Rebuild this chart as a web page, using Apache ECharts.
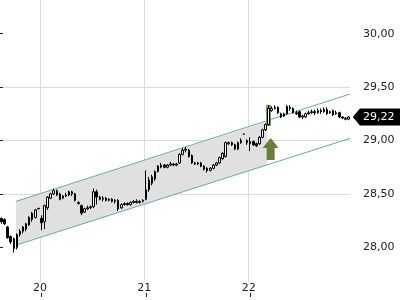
<!DOCTYPE html>
<html><head><meta charset="utf-8">
<script src="https://cdn.jsdelivr.net/npm/echarts@6/dist/echarts.min.js"></script>
<style>html,body{margin:0;padding:0;background:#fff}#c{width:400px;height:300px}</style>
</head><body><div id="c"></div>
<script>
// ---- data ----
const days = ['19', '20', '21', '22'];
const slotsPerDay = 34;      // 15-minute candles per trading day
const firstSlot = 21;        // first visible candle of day 19
const opens = [28.27,28.26,28.19,28.10,28.08,28.00,28.12,28.15,28.17,28.21,28.26,28.28,28.36,28.27,28.24,28.37,28.46,28.50,28.53,28.50,
28.46,28.48,28.49,28.52,28.50,28.42,28.39,28.33,28.36,28.37,28.38,28.52,28.47,28.45,28.46,28.44,28.45,28.43,28.44,28.37,
28.40,28.41,28.40,28.42,28.43,28.42,28.43,28.45,28.54,28.60,28.64,28.71,28.75,28.77,28.75,28.77,28.78,28.77,28.79,28.87,
28.91,28.91,28.86,28.79,28.78,28.79,28.76,28.74,28.72,28.74,28.77,28.79,28.83,28.85,28.97,28.98,28.96,28.92,28.98,29.06,
29.00,28.99,28.99,28.97,28.97,29.03,29.10,29.15,29.28,29.30,29.31,29.25,29.23,29.25,29.31,29.30,29.26,29.27,29.22,29.22,
29.25,29.26,29.27,29.26,29.28,29.27,29.29,29.26,29.28,29.25,29.26,29.22,29.21,29.20];
const closes = [28.24,28.22,28.09,28.05,27.99,28.12,28.15,28.19,28.22,28.28,28.32,28.35,28.365,28.23,28.39,28.47,28.50,28.53,28.49,28.45,
28.48,28.49,28.52,28.50,28.44,28.41,28.32,28.36,28.37,28.38,28.52,28.47,28.45,28.46,28.44,28.45,28.43,28.44,28.36,28.40,
28.41,28.40,28.42,28.43,28.42,28.43,28.44,28.54,28.63,28.66,28.71,28.76,28.77,28.75,28.77,28.78,28.77,28.78,28.87,28.91,
28.92,28.85,28.79,28.78,28.79,28.76,28.73,28.72,28.74,28.77,28.79,28.84,28.88,28.98,28.98,28.96,28.92,28.98,29.00,29.06,
28.98,28.97,28.96,28.95,29.03,29.10,29.15,29.30,29.30,29.31,29.26,29.22,29.25,29.32,29.30,29.26,29.25,29.22,29.23,29.25,
29.26,29.27,29.26,29.28,29.27,29.29,29.25,29.27,29.24,29.26,29.22,29.21,29.20,29.22];
const lows = [28.22,28.21,28.08,28.03,27.95,27.98,28.10,28.13,28.15,28.20,28.24,28.27,28.355,28.16,28.17,28.35,28.45,28.49,28.48,28.44,
28.45,28.47,28.48,28.48,28.43,28.40,28.30,28.32,28.35,28.36,28.37,28.40,28.44,28.43,28.43,28.43,28.42,28.41,28.34,28.36,
28.39,28.39,28.39,28.41,28.41,28.41,28.42,28.44,28.52,28.58,28.62,28.70,28.74,28.74,28.74,28.76,28.76,28.76,28.78,28.86,
28.89,28.84,28.78,28.77,28.77,28.75,28.72,28.70,28.71,28.73,28.76,28.78,28.82,28.84,28.96,28.95,28.91,28.91,28.97,29.055,
28.96,28.90,28.95,28.94,28.96,29.02,29.09,29.14,29.27,29.29,29.25,29.21,29.22,29.24,29.28,29.25,29.24,29.21,29.20,29.21,
29.24,29.25,29.24,29.25,29.25,29.26,29.24,29.25,29.23,29.24,29.21,29.20,29.19,29.19];
const highs = [28.28,28.27,28.20,28.11,28.09,28.13,28.17,28.20,28.23,28.29,28.33,28.36,28.37,28.30,28.40,28.48,28.51,28.55,28.54,28.51,
28.49,28.51,28.53,28.53,28.51,28.43,28.40,28.37,28.39,28.39,28.55,28.54,28.48,28.48,28.47,28.46,28.46,28.45,28.45,28.41,
28.42,28.42,28.43,28.44,28.45,28.44,28.45,28.72,28.66,28.68,28.72,28.77,28.79,28.78,28.78,28.80,28.79,28.79,28.88,28.93,
28.94,28.92,28.87,28.80,28.80,28.80,28.77,28.75,28.75,28.78,28.80,28.85,28.89,28.99,28.99,28.99,28.97,28.99,29.02,29.065,
29.01,29.03,29.00,28.98,29.04,29.11,29.16,29.33,29.32,29.33,29.32,29.26,29.26,29.33,29.33,29.31,29.28,29.28,29.24,29.26,
29.28,29.29,29.29,29.30,29.30,29.31,29.31,29.28,29.29,29.28,29.27,29.23,29.22,29.23];
const yTicks = [28, 28.5, 29, 29.5, 30];
const yMin = 27.675, yMax = 30.316;
// trend channel (x in candle slots)
const channelX = [5.2, 114];
const channelUpper = [28.43, 29.435];
const channelLower = [28.02, 29.02];
const fillX = [5.2, 87];
const fillUpper = [28.43, 29.176];
const fillLower = [28.02, 28.772];
const signalIndex = 87;
const arrowPrice = 28.92;

// ---- build ----
const pad = n => (n < 10 ? '0' : '') + n;
const categories = [];
{
  let d = 0, s = firstSlot;
  for (let i = 0; i < opens.length; i++) {
    const m = 9 * 60 + 15 * s;
    categories.push(days[d] + ' ' + pad(Math.floor(m / 60)) + ':' + pad(m % 60));
    s++; if (s === slotsPerDay) { s = 0; d++; }
  }
}
const isDayStart = (idx, val) => /09:00$/.test(val);
const fmt = v => Number(v).toFixed(2).replace('.', ',');
const candleData = opens.map((o, i) => [o, closes[i], lows[i], highs[i]]);
const highlightData = categories.map((c, i) => i === signalIndex ? [lows[i], highs[i], lows[i], highs[i]] : '-');
const last = closes.length - 1;
const font = 'DejaVu Sans';
const teal = '#62a9ae';
const olive = '#6b7d3b';

const chart = echarts.init(document.getElementById('c'), null, { renderer: 'canvas' });
chart.setOption({
  animation: false,
  grid: [
    { left: 0, right: 50, top: 0, bottom: 18 },
    { left: 0, right: 50, top: 0, bottom: 3 }
  ],
  xAxis: [
    { type: 'category', gridIndex: 0, data: categories, position: 'bottom',
      axisLine: { show: false }, axisTick: { show: false },
      axisLabel: { interval: isDayStart, formatter: v => v.split(' ')[0], margin: 1,
        color: '#222', fontSize: 11, fontFamily: font, padding: [0, 3, 0, 0] },
      splitLine: { show: true, interval: isDayStart, showMinLine: true, showMaxLine: false,
        lineStyle: { color: '#dcdcdc', width: 1 } } },
    { type: 'value', gridIndex: 0, min: 0, max: categories.length, show: false },
    { type: 'category', gridIndex: 1, data: categories, position: 'bottom',
      axisLine: { show: false }, axisLabel: { show: false }, splitLine: { show: false },
      axisTick: { show: true, interval: isDayStart, inside: true, length: 4, alignWithLabel: true,
        lineStyle: { color: '#222' } } }
  ],
  yAxis: [
    { type: 'value', gridIndex: 0, position: 'right', min: yMin, max: yMax, splitNumber: 5, offset: 3,
      axisLine: { show: false },
      axisTick: { show: true, length: 3, customValues: yTicks, lineStyle: { color: '#222' } },
      axisLabel: { customValues: yTicks, formatter: fmt, margin: 10, color: '#222', fontSize: 11, fontFamily: font },
      splitLine: { show: true, showMinLine: false, showMaxLine: false, lineStyle: { color: '#dcdcdc' } } },
    { type: 'value', gridIndex: 1, show: false }
  ],
  series: [
    { type: 'custom', xAxisIndex: 1, yAxisIndex: 0, silent: true, z: 1, clip: true,
      data: [0],
      renderItem: (params, api) => {
        const pts = [];
        fillX.forEach((x, i) => pts.push(api.coord([x, fillUpper[i]])));
        for (let i = fillX.length - 1; i >= 0; i--) pts.push(api.coord([fillX[i], fillLower[i]]));
        return { type: 'polygon', shape: { points: pts }, style: { fill: '#e0e0e0' } };
      } },
    { type: 'line', xAxisIndex: 1, yAxisIndex: 0, symbol: 'none', silent: true, z: 3,
      data: channelX.map((x, i) => [x, channelUpper[i]]), lineStyle: { color: teal, width: 1 } },
    { type: 'line', xAxisIndex: 1, yAxisIndex: 0, symbol: 'none', silent: true, z: 3,
      data: channelX.map((x, i) => [x, channelLower[i]]), lineStyle: { color: teal, width: 1 } },
    { type: 'candlestick', xAxisIndex: 0, yAxisIndex: 0, data: highlightData, barWidth: 4, silent: true, z: 4,
      itemStyle: { color: '#86954f', color0: '#86954f', borderColor: '#86954f', borderColor0: '#86954f', borderWidth: 1 } },
    { type: 'candlestick', xAxisIndex: 0, yAxisIndex: 0, data: candleData, barWidth: 2, silent: true, z: 5,
      itemStyle: { color: '#fff', color0: '#000', borderColor: '#000', borderColor0: '#000', borderWidth: 1 },
      markPoint: {
        silent: true,
        data: [
          { coord: [categories[last], closes[last]], value: closes[last],
            symbol: 'path://M0,8.5L7,0L48,0L48,17L7,17Z', symbolSize: [48, 17], symbolOffset: [28.4, 0],
            symbolKeepAspect: false,
            itemStyle: { color: '#000' },
            label: { show: true, position: 'inside', formatter: p => fmt(p.value), color: '#fff',
              fontSize: 11, fontFamily: font, offset: [2, 0] } },
          { coord: [categories[signalIndex], arrowPrice], value: arrowPrice,
            symbol: 'path://M8,0L16,10L12,10L12,22L4,22L4,10L0,10Z', symbolSize: [16, 22], symbolOffset: [2, 0],
            symbolKeepAspect: false,
            itemStyle: { color: olive }, label: { show: false } }
        ]
      } }
  ]
});
</script></body></html>
